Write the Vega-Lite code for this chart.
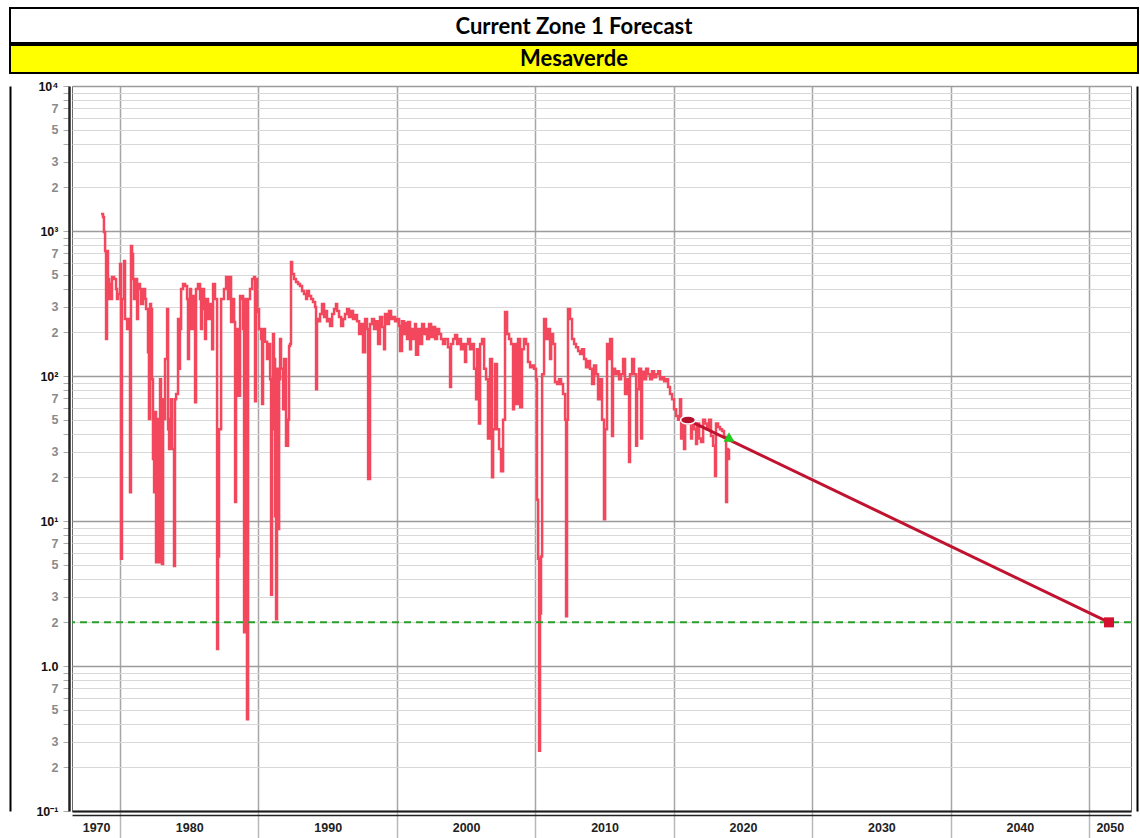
{
  "$schema": "https://vega.github.io/schema/vega-lite/v6.json",
  "background": "white",
  "padding": {"left": 9, "top": 7, "right": 0, "bottom": 0},
  "config": {"font": "Liberation Sans"},
  "datasets": {
    "history": [
      {"t": 1978.63, "q": 1310}, {"t": 1978.77, "q": 1250}, {"t": 1978.84, "q": 984}, {"t": 1978.92, "q": 728}, {"t": 1978.99, "q": 180}, {"t": 1979.06, "q": 728}, {"t": 1979.13, "q": 467}, {"t": 1979.21, "q": 340}, {"t": 1979.28, "q": 431}, {"t": 1979.35, "q": 340}, {"t": 1979.42, "q": 482}, {"t": 1979.57, "q": 467}, {"t": 1979.71, "q": 398}, {"t": 1979.78, "q": 340}, {"t": 1979.86, "q": 368},
      {"t": 1980.00, "q": 592}, {"t": 1980.07, "q": 5.5}, {"t": 1980.14, "q": 340}, {"t": 1980.29, "q": 621}, {"t": 1980.36, "q": 247}, {"t": 1980.51, "q": 211}, {"t": 1980.58, "q": 247}, {"t": 1980.72, "q": 15.8}, {"t": 1980.79, "q": 788}, {"t": 1980.87, "q": 694}, {"t": 1980.94, "q": 467},
      {"t": 1981.01, "q": 340}, {"t": 1981.08, "q": 431}, {"t": 1981.16, "q": 467}, {"t": 1981.23, "q": 247}, {"t": 1981.30, "q": 431}, {"t": 1981.44, "q": 398}, {"t": 1981.52, "q": 314}, {"t": 1981.66, "q": 398}, {"t": 1981.81, "q": 340}, {"t": 1981.88, "q": 290},
      {"t": 1982.02, "q": 146}, {"t": 1982.09, "q": 50.5}, {"t": 1982.17, "q": 314}, {"t": 1982.24, "q": 290}, {"t": 1982.31, "q": 95}, {"t": 1982.38, "q": 26.8}, {"t": 1982.46, "q": 15.8}, {"t": 1982.53, "q": 56.5}, {"t": 1982.60, "q": 5.2}, {"t": 1982.67, "q": 50.5}, {"t": 1982.75, "q": 19.5}, {"t": 1982.82, "q": 5.2}, {"t": 1982.89, "q": 95}, {"t": 1982.96, "q": 22.8},
      {"t": 1983.03, "q": 5.06}, {"t": 1983.11, "q": 69}, {"t": 1983.18, "q": 50.5}, {"t": 1983.25, "q": 131}, {"t": 1983.40, "q": 290}, {"t": 1983.47, "q": 43}, {"t": 1983.54, "q": 31.4}, {"t": 1983.61, "q": 50.5}, {"t": 1983.68, "q": 69}, {"t": 1983.76, "q": 31.4}, {"t": 1983.90, "q": 4.9}, {"t": 1983.97, "q": 69},
      {"t": 1984.05, "q": 75}, {"t": 1984.19, "q": 247}, {"t": 1984.26, "q": 112}, {"t": 1984.33, "q": 211}, {"t": 1984.41, "q": 398}, {"t": 1984.55, "q": 431}, {"t": 1984.70, "q": 418}, {"t": 1984.84, "q": 340}, {"t": 1984.91, "q": 131}, {"t": 1984.98, "q": 340},
      {"t": 1985.06, "q": 398}, {"t": 1985.13, "q": 211}, {"t": 1985.27, "q": 356}, {"t": 1985.42, "q": 66}, {"t": 1985.49, "q": 398}, {"t": 1985.63, "q": 431}, {"t": 1985.78, "q": 340}, {"t": 1985.85, "q": 211}, {"t": 1985.92, "q": 398},
      {"t": 1986.07, "q": 290}, {"t": 1986.14, "q": 180}, {"t": 1986.21, "q": 340}, {"t": 1986.36, "q": 247}, {"t": 1986.50, "q": 314}, {"t": 1986.65, "q": 153}, {"t": 1986.72, "q": 431}, {"t": 1986.86, "q": 340}, {"t": 1986.94, "q": 340},
      {"t": 1987.01, "q": 1.31}, {"t": 1987.08, "q": 5.7}, {"t": 1987.15, "q": 43}, {"t": 1987.30, "q": 340}, {"t": 1987.51, "q": 398}, {"t": 1987.66, "q": 482}, {"t": 1987.80, "q": 340}, {"t": 1987.87, "q": 482},
      {"t": 1988.02, "q": 236}, {"t": 1988.09, "q": 340}, {"t": 1988.24, "q": 236}, {"t": 1988.31, "q": 13.5}, {"t": 1988.38, "q": 211}, {"t": 1988.52, "q": 73}, {"t": 1988.67, "q": 356}, {"t": 1988.74, "q": 340}, {"t": 1988.81, "q": 356}, {"t": 1988.89, "q": 211}, {"t": 1988.96, "q": 1.71},
      {"t": 1989.03, "q": 340}, {"t": 1989.10, "q": 1.71}, {"t": 1989.17, "q": 0.43}, {"t": 1989.25, "q": 340}, {"t": 1989.39, "q": 398}, {"t": 1989.54, "q": 467}, {"t": 1989.68, "q": 482}, {"t": 1989.75, "q": 67}, {"t": 1989.82, "q": 467}, {"t": 1989.90, "q": 276}, {"t": 1989.97, "q": 290},
      {"t": 1990.04, "q": 211}, {"t": 1990.19, "q": 180}, {"t": 1990.26, "q": 64}, {"t": 1990.33, "q": 211}, {"t": 1990.47, "q": 172}, {"t": 1990.62, "q": 131}, {"t": 1990.69, "q": 166}, {"t": 1990.84, "q": 95}, {"t": 1990.91, "q": 3.1}, {"t": 1990.98, "q": 43},
      {"t": 1991.05, "q": 195}, {"t": 1991.12, "q": 131}, {"t": 1991.20, "q": 10.8}, {"t": 1991.27, "q": 2.1}, {"t": 1991.34, "q": 112}, {"t": 1991.41, "q": 8.8}, {"t": 1991.49, "q": 95}, {"t": 1991.56, "q": 180}, {"t": 1991.63, "q": 112}, {"t": 1991.78, "q": 59}, {"t": 1991.85, "q": 131}, {"t": 1991.99, "q": 33},
      {"t": 1992.14, "q": 50}, {"t": 1992.21, "q": 161}, {"t": 1992.28, "q": 166}, {"t": 1992.35, "q": 611}, {"t": 1992.43, "q": 505}, {"t": 1992.57, "q": 467}, {"t": 1992.71, "q": 445}, {"t": 1992.86, "q": 431},
      {"t": 1993.00, "q": 418}, {"t": 1993.15, "q": 386}, {"t": 1993.29, "q": 368}, {"t": 1993.44, "q": 340}, {"t": 1993.51, "q": 386}, {"t": 1993.65, "q": 356}, {"t": 1993.80, "q": 340}, {"t": 1993.94, "q": 324},
      {"t": 1994.09, "q": 299}, {"t": 1994.16, "q": 81}, {"t": 1994.23, "q": 247}, {"t": 1994.30, "q": 239}, {"t": 1994.45, "q": 268}, {"t": 1994.59, "q": 314}, {"t": 1994.74, "q": 255}, {"t": 1994.81, "q": 281}, {"t": 1994.95, "q": 239},
      {"t": 1995.10, "q": 247}, {"t": 1995.17, "q": 221}, {"t": 1995.32, "q": 268}, {"t": 1995.46, "q": 290}, {"t": 1995.60, "q": 314}, {"t": 1995.68, "q": 281}, {"t": 1995.82, "q": 255}, {"t": 1995.97, "q": 221},
      {"t": 1996.11, "q": 247}, {"t": 1996.25, "q": 268}, {"t": 1996.40, "q": 290}, {"t": 1996.54, "q": 255}, {"t": 1996.69, "q": 281}, {"t": 1996.83, "q": 247}, {"t": 1996.98, "q": 263},
      {"t": 1997.12, "q": 239}, {"t": 1997.27, "q": 195}, {"t": 1997.41, "q": 228}, {"t": 1997.55, "q": 146}, {"t": 1997.70, "q": 247}, {"t": 1997.84, "q": 211}, {"t": 1997.92, "q": 19.5}, {"t": 1997.99, "q": 19.5},
      {"t": 1998.06, "q": 228}, {"t": 1998.20, "q": 247}, {"t": 1998.35, "q": 211}, {"t": 1998.49, "q": 239}, {"t": 1998.64, "q": 166}, {"t": 1998.78, "q": 255}, {"t": 1998.93, "q": 218},
      {"t": 1999.07, "q": 153}, {"t": 1999.14, "q": 268}, {"t": 1999.29, "q": 228}, {"t": 1999.43, "q": 281}, {"t": 1999.58, "q": 247}, {"t": 1999.72, "q": 255}, {"t": 1999.87, "q": 239},
      {"t": 2000.01, "q": 247}, {"t": 2000.16, "q": 221}, {"t": 2000.23, "q": 149}, {"t": 2000.37, "q": 239}, {"t": 2000.52, "q": 195}, {"t": 2000.59, "q": 232}, {"t": 2000.73, "q": 180}, {"t": 2000.81, "q": 236}, {"t": 2000.95, "q": 153},
      {"t": 2001.02, "q": 211}, {"t": 2001.17, "q": 180}, {"t": 2001.31, "q": 228}, {"t": 2001.38, "q": 140}, {"t": 2001.53, "q": 211}, {"t": 2001.67, "q": 166}, {"t": 2001.82, "q": 228}, {"t": 2001.96, "q": 195},
      {"t": 2002.11, "q": 211}, {"t": 2002.18, "q": 180}, {"t": 2002.32, "q": 228}, {"t": 2002.47, "q": 186}, {"t": 2002.61, "q": 218}, {"t": 2002.76, "q": 180}, {"t": 2002.90, "q": 211},
      {"t": 2003.05, "q": 195}, {"t": 2003.19, "q": 180}, {"t": 2003.33, "q": 166}, {"t": 2003.48, "q": 180}, {"t": 2003.69, "q": 158}, {"t": 2003.84, "q": 84}, {"t": 2003.91, "q": 166},
      {"t": 2004.06, "q": 180}, {"t": 2004.20, "q": 192}, {"t": 2004.35, "q": 166}, {"t": 2004.49, "q": 180}, {"t": 2004.63, "q": 153}, {"t": 2004.78, "q": 166}, {"t": 2004.92, "q": 125},
      {"t": 2005.00, "q": 166}, {"t": 2005.14, "q": 180}, {"t": 2005.28, "q": 153}, {"t": 2005.43, "q": 166}, {"t": 2005.57, "q": 112}, {"t": 2005.72, "q": 69}, {"t": 2005.79, "q": 153}, {"t": 2005.93, "q": 47},
      {"t": 2006.01, "q": 166}, {"t": 2006.15, "q": 180}, {"t": 2006.30, "q": 112}, {"t": 2006.44, "q": 95}, {"t": 2006.58, "q": 37}, {"t": 2006.73, "q": 131}, {"t": 2006.87, "q": 20}, {"t": 2006.95, "q": 43},
      {"t": 2007.09, "q": 121}, {"t": 2007.23, "q": 43}, {"t": 2007.38, "q": 31.4}, {"t": 2007.52, "q": 22}, {"t": 2007.67, "q": 50}, {"t": 2007.81, "q": 276}, {"t": 2007.96, "q": 195},
      {"t": 2008.10, "q": 180}, {"t": 2008.25, "q": 166}, {"t": 2008.39, "q": 59}, {"t": 2008.46, "q": 166}, {"t": 2008.61, "q": 64}, {"t": 2008.75, "q": 180}, {"t": 2008.90, "q": 61},
      {"t": 2009.04, "q": 153}, {"t": 2009.18, "q": 180}, {"t": 2009.33, "q": 166}, {"t": 2009.47, "q": 125}, {"t": 2009.62, "q": 115}, {"t": 2009.76, "q": 118}, {"t": 2009.91, "q": 112},
      {"t": 2010.05, "q": 95}, {"t": 2010.12, "q": 14}, {"t": 2010.20, "q": 5.5}, {"t": 2010.27, "q": 0.26}, {"t": 2010.34, "q": 2.3}, {"t": 2010.41, "q": 5.7}, {"t": 2010.49, "q": 103}, {"t": 2010.63, "q": 247}, {"t": 2010.77, "q": 180}, {"t": 2010.92, "q": 211},
      {"t": 2011.06, "q": 131}, {"t": 2011.14, "q": 195}, {"t": 2011.28, "q": 166}, {"t": 2011.42, "q": 91}, {"t": 2011.57, "q": 88}, {"t": 2011.71, "q": 95}, {"t": 2011.86, "q": 88},
      {"t": 2012.00, "q": 75}, {"t": 2012.15, "q": 50}, {"t": 2012.22, "q": 2.2}, {"t": 2012.29, "q": 50}, {"t": 2012.36, "q": 290}, {"t": 2012.51, "q": 247}, {"t": 2012.65, "q": 180}, {"t": 2012.80, "q": 166}, {"t": 2012.94, "q": 158},
      {"t": 2013.09, "q": 149}, {"t": 2013.23, "q": 142}, {"t": 2013.37, "q": 153}, {"t": 2013.52, "q": 131}, {"t": 2013.66, "q": 115}, {"t": 2013.81, "q": 127}, {"t": 2013.95, "q": 112},
      {"t": 2014.10, "q": 88}, {"t": 2014.24, "q": 118}, {"t": 2014.39, "q": 103}, {"t": 2014.53, "q": 69}, {"t": 2014.68, "q": 95}, {"t": 2014.82, "q": 50}, {"t": 2014.96, "q": 10.3},
      {"t": 2015.04, "q": 43}, {"t": 2015.18, "q": 166}, {"t": 2015.33, "q": 131}, {"t": 2015.40, "q": 180}, {"t": 2015.54, "q": 38.5}, {"t": 2015.61, "q": 112}, {"t": 2015.76, "q": 103}, {"t": 2015.90, "q": 108},
      {"t": 2016.05, "q": 95}, {"t": 2016.19, "q": 103}, {"t": 2016.34, "q": 131}, {"t": 2016.48, "q": 75}, {"t": 2016.63, "q": 95}, {"t": 2016.77, "q": 25.5}, {"t": 2016.84, "q": 103}, {"t": 2016.99, "q": 131},
      {"t": 2017.13, "q": 103}, {"t": 2017.28, "q": 33}, {"t": 2017.35, "q": 81}, {"t": 2017.49, "q": 112}, {"t": 2017.64, "q": 37}, {"t": 2017.71, "q": 107}, {"t": 2017.85, "q": 95},
      {"t": 2018.00, "q": 112}, {"t": 2018.14, "q": 103}, {"t": 2018.29, "q": 95}, {"t": 2018.43, "q": 108}, {"t": 2018.58, "q": 98}, {"t": 2018.72, "q": 103}, {"t": 2018.87, "q": 108},
      {"t": 2019.01, "q": 95}, {"t": 2019.15, "q": 98}, {"t": 2019.30, "q": 92}, {"t": 2019.44, "q": 95}, {"t": 2019.59, "q": 84}, {"t": 2019.73, "q": 75}, {"t": 2019.88, "q": 69},
      {"t": 2020.02, "q": 59}, {"t": 2020.17, "q": 53}, {"t": 2020.31, "q": 50}, {"t": 2020.45, "q": 69}, {"t": 2020.53, "q": 37}, {"t": 2020.60, "q": 50}, {"t": 2020.74, "q": 31.4}, {"t": 2020.82, "q": 50}, {"t": 2020.96, "q": 47},
      {"t": 2021.10, "q": 52}, {"t": 2021.25, "q": 37}, {"t": 2021.32, "q": 50}, {"t": 2021.47, "q": 43}, {"t": 2021.61, "q": 34}, {"t": 2021.68, "q": 47}, {"t": 2021.83, "q": 37}, {"t": 2021.97, "q": 35},
      {"t": 2022.12, "q": 50}, {"t": 2022.26, "q": 47}, {"t": 2022.40, "q": 43}, {"t": 2022.55, "q": 50}, {"t": 2022.69, "q": 38.5}, {"t": 2022.84, "q": 33}, {"t": 2022.98, "q": 20.4},
      {"t": 2023.05, "q": 47}, {"t": 2023.20, "q": 44.5}, {"t": 2023.34, "q": 43}, {"t": 2023.49, "q": 41.8}, {"t": 2023.63, "q": 38}, {"t": 2023.78, "q": 13.5}, {"t": 2023.85, "q": 31.4}, {"t": 2023.92, "q": 26.8}, {"t": 2023.99, "q": 31.4}
    ],
    "forecast": [
      {"t": 2021.03, "q": 49.7},
      {"t": 2051.44, "q": 2.0}
    ],
    "markers": [
      {"kind": "start", "t": 2021.03, "q": 49.7},
      {"kind": "current", "t": 2023.99, "q": 38},
      {"kind": "limit", "t": 2051.44, "q": 2.0}
    ],
    "limit": [
      {"econ_limit": 2.0}
    ]
  },
  "vconcat": [
    {
      "vconcat": [
        {
          "data": {"values": [{"label": "Current Zone 1 Forecast"}]},
          "width": 1128,
          "height": 35,
          "view": {"fill": "white", "stroke": "black", "strokeWidth": 2},
          "mark": {"type": "text", "font": "Lato", "fontWeight": "bold", "fontSize": 22, "align": "center", "baseline": "middle", "dy": 1, "color": "black"},
          "encoding": {"text": {"field": "label", "type": "nominal"}}
        },
        {
          "data": {"values": [{"label": "Mesaverde"}]},
          "width": 1128,
          "height": 28,
          "view": {"fill": "#ffff00", "stroke": "black", "strokeWidth": 2},
          "mark": {"type": "text", "font": "Lato", "fontWeight": "bold", "fontSize": 22, "align": "center", "baseline": "middle", "color": "black"},
          "encoding": {"text": {"field": "label", "type": "nominal"}}
        }
      ],
      "spacing": 0
    },
    {
      "hconcat": [
        {
          "width": 59,
          "height": 725,
          "view": {"stroke": null},
          "data": {"name": "limit"},
          "resolve": {"axis": {"y": "independent"}},
          "layer": [
            {
              "mark": {"type": "point", "opacity": 0, "size": 1},
              "encoding": {
                "x": {"field": "econ_limit", "type": "quantitative", "scale": {"zero": false}, "axis": null},
                "y": {
                  "field": "econ_limit", "type": "quantitative",
                  "scale": {"type": "log", "domain": [0.1, 10000]},
                  "axis": {
                    "title": null, "orient": "left", "offset": -59,
                    "values": [0.1, 0.2, 0.3, 0.4, 0.5, 0.6, 0.7, 0.8, 0.9, 1, 2, 3, 4, 5, 6, 7, 8, 9, 10, 20, 30, 40, 50, 60, 70, 80, 90, 100, 200, 300, 400, 500, 600, 700, 800, 900, 1000, 2000, 3000, 4000, 5000, 6000, 7000, 8000, 9000, 10000],
                    "labelExpr": "datum.value == 10000 ? '10⁴' : datum.value == 1000 ? '10³' : datum.value == 100 ? '10²' : datum.value == 10 ? '10¹' : datum.value == 1 ? '1.0' : datum.value == 0.1 ? '10⁻¹' : (indexof([2, 3, 5, 7], round(datum.value / pow(10, floor(log(datum.value) / LN10 + 1e-6)))) >= 0 ? '' + round(datum.value / pow(10, floor(log(datum.value) / LN10 + 1e-6))) : '')",
                    "labelOverlap": false, "labelFlush": false,
                    "labelFont": "Liberation Sans", "labelFontWeight": "bold", "labelFontSize": 12.5,
                    "labelColor": {"condition": {"test": "indexof([0.1, 1, 10, 100, 1000, 10000], datum.value) >= 0", "value": "#111111"}, "value": "#8a8a8a"},
                    "labelPadding": 5,
                    "grid": false,
                    "ticks": true, "tickSize": 6, "tickColor": "#aaaaaa",
                    "domain": true, "domainColor": "#222222", "domainWidth": 2.5
                  }
                }
              }
            },
            {
              "mark": {"type": "point", "opacity": 0, "size": 1},
              "encoding": {
                "x": {"field": "econ_limit", "type": "quantitative", "scale": {"zero": false}, "axis": null},
                "y": {
                  "field": "econ_limit", "type": "quantitative",
                  "scale": {"type": "log", "domain": [0.1, 10000]},
                  "axis": {"title": null, "orient": "left", "offset": 0, "labels": false, "ticks": false, "grid": false, "domain": true, "domainColor": "black", "domainWidth": 2}
                }
              }
            }
          ]
        },
        {
          "width": 1059,
          "height": 725,
          "view": {"fill": "white", "stroke": "#6a6a6a", "strokeWidth": 1},
          "resolve": {"axis": {"x": "independent", "y": "independent"}},
          "layer": [
            {
              "data": {"name": "history"},
              "mark": {"type": "line", "color": "#f2475d", "strokeWidth": 2.5, "interpolate": "step-after"},
              "encoding": {
                "x": {
                  "field": "t", "type": "quantitative",
                  "scale": {"domain": [1976.53, 2053.03], "nice": false, "zero": false},
                  "axis": {
                    "title": null, "values": [1980, 1990, 2000, 2010, 2020, 2030, 2040, 2050],
                    "grid": true, "gridColor": "#a6a6a6", "gridWidth": 1.5,
                    "labels": false, "ticks": true, "tickSize": 30, "tickColor": "#b8b8b8", "tickWidth": 1.5,
                    "domain": true, "domainColor": "#1a1a1a", "domainWidth": 2
                  }
                },
                "y": {
                  "field": "q", "type": "quantitative",
                  "scale": {"type": "log", "domain": [0.1, 10000]},
                  "axis": {
                    "title": null,
                    "values": [0.1, 0.2, 0.3, 0.4, 0.5, 0.6, 0.7, 0.8, 0.9, 1, 2, 3, 4, 5, 6, 7, 8, 9, 10, 20, 30, 40, 50, 60, 70, 80, 90, 100, 200, 300, 400, 500, 600, 700, 800, 900, 1000, 2000, 3000, 4000, 5000, 6000, 7000, 8000, 9000, 10000],
                    "labels": false, "ticks": false, "domain": false,
                    "grid": true,
                    "gridColor": {"condition": {"test": "indexof([0.1, 1, 10, 100, 1000, 10000], datum.value) >= 0", "value": "#9c9c9c"}, "value": "#d8d8d8"},
                    "gridWidth": {"condition": {"test": "indexof([0.1, 1, 10, 100, 1000, 10000], datum.value) >= 0", "value": 1.4}, "value": 1}
                  }
                }
              }
            },
            {
              "data": {"name": "limit"},
              "mark": {"type": "rule", "color": "#2a9d2a", "strokeWidth": 2, "strokeDash": [7, 5]},
              "encoding": {
                "y": {"field": "econ_limit", "type": "quantitative", "scale": {"type": "log", "domain": [0.1, 10000]}, "axis": null}
              }
            },
            {
              "data": {"name": "forecast"},
              "mark": {"type": "line", "color": "#c1122f", "strokeWidth": 3},
              "encoding": {
                "x": {
                  "field": "t", "type": "quantitative",
                  "scale": {"domain": [1976.53, 2053.03], "nice": false, "zero": false},
                  "axis": {
                    "title": null, "orient": "bottom", "offset": 4,
                    "values": [1978.27, 1985, 1995, 2005, 2015, 2025, 2035, 2045, 2051.5],
                    "labelExpr": "datum.value < 1980 ? '1970' : datum.value > 2050 ? '2050' : '' + (datum.value - 5)",
                    "ticks": false, "grid": false,
                    "domain": true, "domainColor": "#222222", "domainWidth": 1.5,
                    "labelFont": "Liberation Sans", "labelFontWeight": "bold", "labelFontSize": 12.5, "labelColor": "#222222",
                    "labelPadding": 6, "labelFlush": false, "labelOverlap": false
                  }
                },
                "y": {
                  "field": "q", "type": "quantitative",
                  "scale": {"type": "log", "domain": [0.1, 10000]},
                  "axis": null
                }
              }
            },
            {
              "data": {"name": "markers"},
              "transform": [{"filter": "datum.kind == 'start'"}],
              "mark": {"type": "point", "shape": "M-1,0A1,0.55,0,1,1,1,0A1,0.55,0,1,1,-1,0Z", "filled": true, "fill": "#b3102c", "stroke": "white", "strokeWidth": 1.5, "size": 220, "opacity": 1},
              "encoding": {
                "x": {"field": "t", "type": "quantitative", "scale": {"domain": [1976.53, 2053.03], "nice": false, "zero": false}, "axis": null},
                "y": {
                  "field": "q", "type": "quantitative",
                  "scale": {"type": "log", "domain": [0.1, 10000]},
                  "axis": {"title": null, "orient": "right", "offset": 6, "labels": false, "ticks": false, "grid": false, "domain": true, "domainColor": "black", "domainWidth": 2}
                }
              }
            },
            {
              "data": {"name": "markers"},
              "transform": [{"filter": "datum.kind == 'current'"}],
              "mark": {"type": "point", "shape": "triangle-up", "filled": true, "color": "#1fcc1f", "size": 120, "opacity": 1},
              "encoding": {
                "x": {"field": "t", "type": "quantitative", "scale": {"domain": [1976.53, 2053.03], "nice": false, "zero": false}, "axis": null},
                "y": {"field": "q", "type": "quantitative", "scale": {"type": "log", "domain": [0.1, 10000]}, "axis": null}
              }
            },
            {
              "data": {"name": "markers"},
              "transform": [{"filter": "datum.kind == 'limit'"}],
              "mark": {"type": "point", "shape": "square", "filled": true, "color": "#d4112f", "size": 100, "opacity": 1},
              "encoding": {
                "x": {"field": "t", "type": "quantitative", "scale": {"domain": [1976.53, 2053.03], "nice": false, "zero": false}, "axis": null},
                "y": {"field": "q", "type": "quantitative", "scale": {"type": "log", "domain": [0.1, 10000]}, "axis": null}
              }
            }
          ]
        }
      ],
      "spacing": 0
    }
  ],
  "spacing": 6
}
